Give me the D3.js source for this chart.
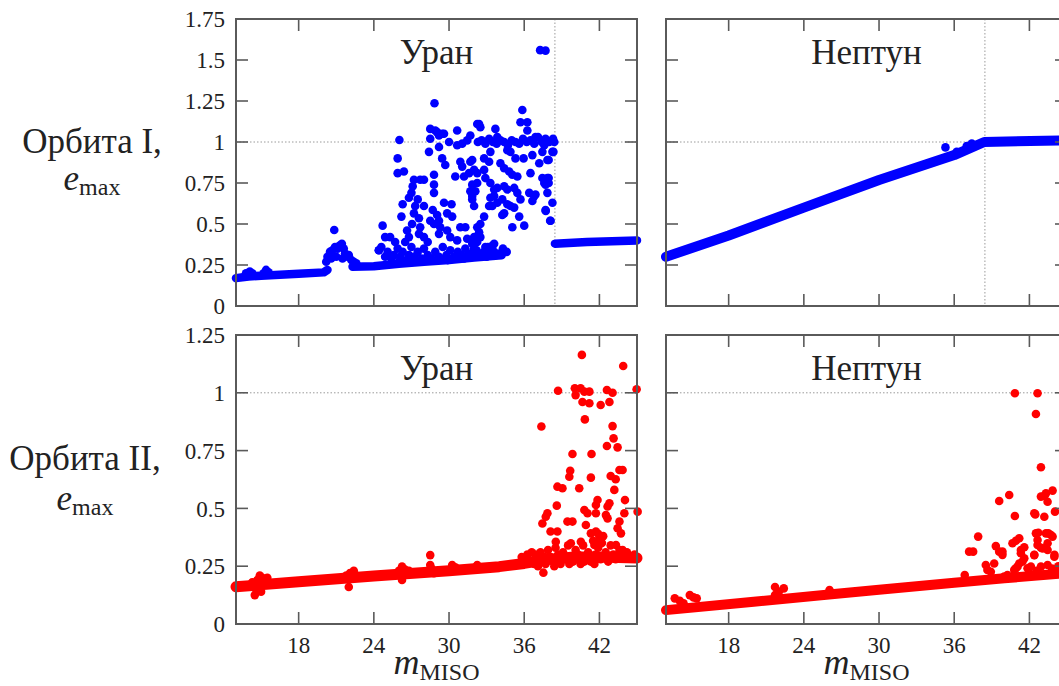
<!DOCTYPE html>
<html><head><meta charset="utf-8">
<script src="https://cdn.jsdelivr.net/npm/d3@7"></script>
<style>body{margin:0;background:#fff}svg{display:block}</style>
</head><body><svg id="c" width="1059" height="686"></svg>
<script>
// ---------- data ----------
const xTicks = [18, 24, 30, 36, 42];
const xDomain = [13, 45];
const yTicksTop = [0, 0.25, 0.5, 0.75, 1, 1.25, 1.5, 1.75];
const yTicksBottom = [0, 0.25, 0.5, 0.75, 1, 1.25];
const planetTitles = ["Уран", "Нептун"];
const rowLabels = ["Орбита I,", "Орбита II,"];
const critical = [38.45, 38.45];

// Uranus, orbit I
const uranusI_band = [[13,0.17],[14,0.18],[15,0.185],[16.5,0.19],[18,0.197],[20,0.205],[20.3,0.22]];
const uranusI_band2 = [[22.3,0.24],[24,0.243],[25,0.25],[26,0.258],[28,0.27],[30,0.28],[32,0.295],[34.2,0.31]];
const uranusI_tail = [[38.45,0.38],[41,0.39],[45,0.40]];
const uranusI_points = [
[13.8,0.20],[14.1,0.21],[14.3,0.20],[15.2,0.20],[15.4,0.22],[15.6,0.205],
[20.2,0.27],[20.3,0.30],[20.5,0.33],[20.6,0.29],[20.7,0.34],[20.9,0.36],[21.0,0.30],[21.1,0.35],[21.3,0.37],[21.45,0.38],[21.5,0.29],[21.6,0.35],[21.7,0.32],[21.9,0.30],[22.0,0.31],[22.2,0.28],[22.4,0.27],[22.6,0.26],[20.84,0.463],
[37.27,1.56],[37.7,1.557],[28.84,1.236],[35.85,1.195],[35.7,1.12],[36.25,1.12],[36.25,1.07],[32.4,1.11],[32.5,1.09],[33.7,1.08],[33.85,1.03],[30.65,1.07],[28.9,1.07],[29.2,1.04],[29.6,1.05],[26.04,1.012],[28.5,1.08],[29.05,1.06],[29.45,1.05],[30.0,1.0],[29.2,0.97],[28.5,1.02],[28.4,0.94],[29.45,0.90],[29.7,0.86],[25.9,0.90],[25.9,0.81],[26.4,0.82],[27.2,0.77],[27.7,0.77],[28.0,0.77],[27.1,0.73],[27.0,0.69],[26.8,0.66],[28.8,0.80],[28.8,0.74],[28.8,0.69],[27.5,0.65],[27.3,0.61],[28.0,0.61],[26.3,0.62],[26.2,0.545],[27.2,0.565],[27.6,0.535],[28.7,0.585],[29.6,0.63],[30.2,0.62],[29.05,0.555],[29.2,0.52],[29.85,0.565],[30.25,0.545],[24.7,0.49],[27.05,0.50],[27.7,0.48],[27.6,0.44],[26.65,0.46],[26.8,0.42],[26.5,0.39],[28.5,0.52],[28.8,0.50],[29.3,0.48],[29.2,0.44],[29.85,0.46],[30.9,0.48],[31.3,0.48],[25.3,0.42],[25.7,0.39],[28.0,0.42],[28.3,0.39],[30.1,0.42],[30.65,0.40],[31.45,0.41],[32.0,0.42],[30.65,0.98],[31.05,0.99],[31.45,1.01],[31.7,1.04],[32.25,1.11],[30.9,0.88],[31.05,0.85],[31.7,0.88],[32.0,0.83],[32.25,0.81],[30.5,0.79],[31.2,0.79],[31.6,0.81],[31.7,0.70],[31.85,0.74],[32.0,0.61],[31.85,0.65],[24.9,0.42],[24.4,0.34],
[31.85,0.89],[32.8,0.90],[33.2,0.88],[33.3,0.94],[34.65,0.95],[34.9,0.94],[35.3,0.90],[35.95,0.90],[36.65,0.92],[37.45,0.94],[38.25,0.94],[37.95,0.89],[34.1,0.87],[34.4,0.84],[34.8,0.82],[35.05,0.80],[35.45,0.79],[32.8,0.83],[32.9,0.78],[33.3,0.75],[33.6,0.71],[33.85,0.72],[32.25,0.75],[32.1,0.70],[31.85,0.67],[36.5,0.81],[37.85,0.78],[37.95,0.75],[37.7,0.74],[37.85,0.69],[38.25,0.63],[37.7,0.585],[38.1,0.52],[34.4,0.73],[34.65,0.71],[35.2,0.72],[35.45,0.69],[35.7,0.65],[33.6,0.67],[33.85,0.63],[34.25,0.65],[33.3,0.66],[33.2,0.61],[33.45,0.61],[36.4,0.69],[36.8,0.67],[36.65,0.64],[36.9,0.68],[34.65,0.62],[34.9,0.61],[35.2,0.60],[34.4,0.565],[34.25,0.555],[35.6,0.545],[36.0,0.49],[35.05,0.48],[32.8,0.545],[32.5,0.50],[32.25,0.48],[32.4,0.45],[32.5,0.42],[32.25,0.39],[31.85,0.38],[32.0,0.35],[33.6,0.38],[33.2,0.34],[32.8,0.33],[37.45,0.78],[37.6,0.75],[37.95,0.78],[37.2,0.87],[37.85,0.89],[38.33,0.94],[38.07,0.52],[37.72,0.58],[33.1,0.36],[33.5,0.37],
[32.3,1.0],[32.6,1.01],[32.9,0.99],[33.2,1.02],[33.5,1.0],[33.8,0.99],[34.1,1.01],[34.4,1.0],[34.7,0.98],[35.0,1.01],[35.3,1.0],[35.6,0.99],[35.9,1.02],[36.2,1.0],[36.5,1.01],[36.8,0.99],[37.1,1.03],[37.4,1.0],[37.7,1.02],[38.0,1.0],[38.3,1.02],[38.4,1.0],[36.9,1.03],[37.6,0.98],
[24.4,0.34],[24.6,0.36],[24.9,0.30],[25.1,0.33],[25.4,0.29],[25.6,0.31],[25.9,0.35],[26.1,0.30],[26.3,0.33],[26.6,0.28],[26.8,0.31],[27.0,0.36],[27.2,0.30],[27.5,0.33],[27.8,0.29],[28.0,0.35],[28.3,0.31],[28.6,0.29],[28.9,0.33],[29.2,0.30],[29.5,0.36],[29.8,0.31],[30.1,0.34],[30.4,0.30],[30.7,0.33],[31.0,0.31],[31.3,0.35],[31.6,0.32],[31.9,0.30],[32.2,0.34],[32.6,0.32],[32.9,0.36],[33.3,0.31],[33.6,0.33],[34.0,0.32],[34.3,0.35],[34.6,0.33],[26.0,0.27],[27.3,0.27],[28.5,0.28],[29.9,0.28],[31.2,0.29],[33.0,0.30]
];

// Neptune, orbit I
const neptuneI_band = [[13,0.30],[18,0.43],[24,0.60],[30,0.768],[36,0.92],[38.4,1.0],[45,1.01]];
const neptuneI_points = [[35.3,0.967],[36.2,0.94],[37.4,0.99],[37.0,0.975]];

// Uranus, orbit II
const uranusII_band = [[13,0.161],[18,0.183],[24,0.208],[30,0.23],[34,0.248],[36,0.262],[38,0.28],[40,0.29],[42,0.29],[45,0.285]];
const uranusII_points = [
[14.5,0.125],[14.6,0.15],[14.7,0.19],[14.9,0.21],[15.1,0.20],[15.3,0.19],[15.5,0.20],[14.3,0.18],[15.0,0.14],[22.0,0.16],[21.8,0.21],[22.1,0.22],[22.4,0.23],[22.6,0.21],[26.0,0.23],[26.25,0.248],[26.25,0.19],[26.5,0.235],[26.8,0.23],[28.5,0.298],[28.5,0.255],[28.8,0.22],[28.6,0.24],[30.25,0.255],[30.5,0.245],[32.25,0.255],[36.25,0.30],[35.8,0.29],[36.6,0.31],
[36.5,0.27],[36.9,0.30],[37.1,0.25],[37.3,0.31],[37.5,0.28],[37.7,0.26],[37.9,0.32],[38.1,0.29],[38.3,0.27],[38.5,0.33],[38.7,0.30],[38.9,0.26],[39.1,0.31],[39.3,0.28],[39.5,0.34],[39.7,0.29],[39.9,0.27],[40.1,0.32],[40.3,0.30],[40.5,0.26],[40.7,0.34],[40.9,0.29],[41.1,0.31],[41.3,0.27],[41.5,0.36],[41.7,0.30],[41.9,0.33],[42.1,0.28],[42.3,0.38],[42.5,0.31],[42.7,0.27],[42.9,0.34],[43.1,0.30],[43.3,0.28],[43.6,0.32],[43.9,0.29],[44.2,0.31],[44.5,0.29],[44.8,0.30],[36.8,0.26],[37.6,0.29],[38.4,0.25],[39.6,0.26],[40.8,0.27],[41.6,0.26],[42.0,0.37],[41.9,0.39],[42.2,0.35],
[40.6,1.164],[43.9,1.116],[38.7,1.009],[40.04,1.02],[40.5,1.02],[40.8,1.005],[41.2,1.005],[40.1,0.99],[40.65,0.96],[41.2,0.955],[42.1,0.947],[42.6,1.012],[43.05,1.0],[42.8,0.96],[44.97,1.015],[40.84,0.885],[37.37,0.854],[43.05,0.856],[43.13,0.803],[42.6,0.77],[43.45,0.764],[39.85,0.735],[41.37,0.735],[39.67,0.663],[39.6,0.637],[41.32,0.633],[42.9,0.64],[43.3,0.626],[43.6,0.666],[43.85,0.666],[38.65,0.594],[39.05,0.587],[40.39,0.587],[43.19,0.58],[41.85,0.536],[41.72,0.515],[42.8,0.522],[42.65,0.508],[44.04,0.536],[38.6,0.512],[40.8,0.493],[41.05,0.479],[41.72,0.479],[45.05,0.486],[37.85,0.479],[37.72,0.464],[42.52,0.471],[42.65,0.457],[43.99,0.479],[37.45,0.435],[39.45,0.443],[39.85,0.443],[43.6,0.443],[43.45,0.414],[40.92,0.428],[38.1,0.4],[38.65,0.4],[41.32,0.392],[41.72,0.4],[43.72,0.392],[38.52,0.356],[41.99,0.363],[41.6,0.342],[39.72,0.349],[40.52,0.356],[43.32,0.342],[43.85,0.32],[37.53,0.222]
];

// Neptune, orbit II
const neptuneII_band = [[13,0.06],[20,0.096],[26,0.128],[30,0.148],[36,0.178],[40,0.198],[45,0.22]];
const neptuneII_points = [
[13.7,0.111],[14.9,0.125],[15.45,0.111],[14.4,0.09],[14.1,0.10],[15.2,0.115],[21.7,0.16],[22.4,0.154],[21.7,0.125],[22.0,0.14],[26.05,0.147],
[40.84,0.998],[42.65,0.998],[42.52,0.908],[42.92,0.678],[39.59,0.532],[40.39,0.558],[40.84,0.467],[42.47,0.474],[43.19,0.464],[43.19,0.554],[43.45,0.529],[43.85,0.577],[44.04,0.486],[37.91,0.378],[37.51,0.313],[39.32,0.337],[39.59,0.313],[39.85,0.299],[40.65,0.349],[40.92,0.36],[41.19,0.371],[41.59,0.332],[42.71,0.395],[43.51,0.392],[43.85,0.378],[43.45,0.349],[42.65,0.342],[43.05,0.327],[42.39,0.299],[41.32,0.306],[41.45,0.27],[41.05,0.248],[44.0,0.299],[38.52,0.255],[38.65,0.234],[39.19,0.262],[36.84,0.212],[41.85,0.241],[41.99,0.219],[43.45,0.255],[39.99,0.205],[40.79,0.234],
[37.19,0.313],[38.92,0.226],[39.85,0.313],[41.32,0.32],[40.92,0.241],[41.19,0.262],[41.59,0.284],[42.12,0.248],[42.39,0.479],[42.52,0.392],[42.65,0.363],[42.92,0.551],[43.32,0.565],[43.32,0.392],[43.72,0.385],[42.92,0.33],[43.45,0.32],[43.99,0.291],[42.39,0.298],[42.92,0.248],[40.25,0.212],[42.6,0.23],[43.8,0.24],[44.3,0.25]
];

// ---------- layout ----------
const svg = d3.select("#c");
const FONT = "'Liberation Serif', 'DejaVu Serif', serif";
const panelW = 401, topH = 287, botH = 289;
const cols = [236, 666];
const rows = [19, 335];
const FRAME = "#5a5a5a";

function panel(px, py, h, yDomain, yTicks, showY, showX, title, band, extraBands, pts, color, bandW, crit) {
  const x = d3.scaleLinear().domain(xDomain).range([px, px + panelW]);
  const y = d3.scaleLinear().domain(yDomain).range([py + h, py]);
  const g = svg.append("g");

  g.append("line").attr("x1", px).attr("x2", px + panelW).attr("y1", y(1)).attr("y2", y(1))
    .attr("stroke", "#9a9a9a").attr("stroke-width", 1).attr("stroke-dasharray", "1.5,2");
  if (crit != null) {
    g.append("line").attr("x1", x(crit)).attr("x2", x(crit)).attr("y1", py).attr("y2", py + h)
      .attr("stroke", "#9a9a9a").attr("stroke-width", 1).attr("stroke-dasharray", "1.5,2");
  }

  g.append("text").attr("x", px + panelW / 2).attr("y", py + 45).attr("text-anchor", "middle")
    .attr("font-family", FONT).attr("font-size", 35).attr("fill", "#222").text(title);

  const line = d3.line().x(d => x(d[0])).y(d => y(d[1]));
  [band].concat(extraBands).forEach(b => {
    g.append("path").attr("d", line(b)).attr("fill", "none").attr("stroke", color)
      .attr("stroke-width", bandW).attr("stroke-linecap", "round").attr("stroke-linejoin", "round");
  });
  g.selectAll("circle.p").data(pts).enter().append("circle")
    .attr("cx", d => x(d[0])).attr("cy", d => y(d[1])).attr("r", 4.3).attr("fill", color);

  g.append("rect").attr("x", px).attr("y", py).attr("width", panelW).attr("height", h)
    .attr("fill", "none").attr("stroke", FRAME).attr("stroke-width", 2);

  const tl = 12;
  yTicks.forEach(t => {
    g.append("line").attr("x1", px).attr("x2", px + tl).attr("y1", y(t)).attr("y2", y(t)).attr("stroke", FRAME).attr("stroke-width", 1.6);
    g.append("line").attr("x1", px + panelW - tl).attr("x2", px + panelW).attr("y1", y(t)).attr("y2", y(t)).attr("stroke", FRAME).attr("stroke-width", 1.6);
    if (showY) {
      g.append("text").attr("x", px - 11).attr("y", y(t)).attr("dy", "0.36em").attr("text-anchor", "end")
        .attr("font-family", FONT).attr("font-size", 23).attr("fill", "#222").text(d3.format("")(t));
    }
  });
  xTicks.forEach(t => {
    g.append("line").attr("x1", x(t)).attr("x2", x(t)).attr("y1", py).attr("y2", py + tl).attr("stroke", FRAME).attr("stroke-width", 1.6);
    g.append("line").attr("x1", x(t)).attr("x2", x(t)).attr("y1", py + h - tl).attr("y2", py + h).attr("stroke", FRAME).attr("stroke-width", 1.6);
    if (showX) {
      g.append("text").attr("x", x(t)).attr("y", py + h + 29).attr("text-anchor", "middle")
        .attr("font-family", FONT).attr("font-size", 23).attr("fill", "#222").text(t);
    }
  });
  if (showX) {
    const lab = g.append("text").attr("x", px + panelW / 2).attr("y", py + h + 50).attr("text-anchor", "middle")
      .attr("font-family", FONT).attr("fill", "#222");
    lab.append("tspan").attr("font-size", 36).attr("font-style", "italic").text("m");
    lab.append("tspan").attr("font-size", 24).attr("dy", 6).text("MISO");
  }
}

panel(cols[0], rows[0], topH, [0, 1.75], yTicksTop, true, false, planetTitles[0], uranusI_band, [uranusI_band2, uranusI_tail], uranusI_points, "#0000ff", 8.5, critical[0]);
panel(cols[1], rows[0], topH, [0, 1.75], yTicksTop, false, false, planetTitles[1], neptuneI_band, [], neptuneI_points, "#0000ff", 10, critical[1]);
panel(cols[0], rows[1], botH, [0, 1.25], yTicksBottom, true, true, planetTitles[0], uranusII_band, [], uranusII_points, "#ff0000", 11, null);
panel(cols[1], rows[1], botH, [0, 1.25], yTicksBottom, false, true, planetTitles[1], neptuneII_band, [], neptuneII_points, "#ff0000", 10, null);

const rowPos = [[92, 153, 190], [85, 470, 510]];
rowLabels.forEach((lbl, i) => {
  const [cx, y1, y2] = rowPos[i];
  svg.append("text").attr("x", cx).attr("y", y1).attr("text-anchor", "middle")
    .attr("font-family", FONT).attr("font-size", 35).attr("fill", "#222").text(lbl);
  const t = svg.append("text").attr("x", cx).attr("y", y2).attr("text-anchor", "middle")
    .attr("font-family", FONT).attr("fill", "#222");
  t.append("tspan").attr("font-size", 35).attr("font-style", "italic").text("e");
  t.append("tspan").attr("font-size", 24).attr("dy", 5).text("max");
});
</script></body></html>
